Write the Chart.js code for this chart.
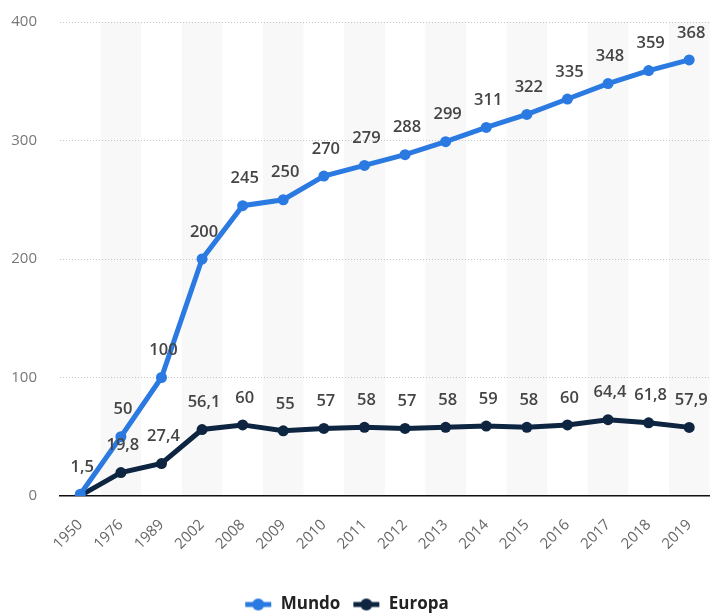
<!DOCTYPE html>
<html>
<head>
<meta charset="utf-8">
<script src="https://cdn.jsdelivr.net/npm/chart.js@4/dist/chart.umd.min.js"></script>
<style>
  html, body { margin: 0; padding: 0; background: #fff; }
  #wrap { width: 715px; height: 613px; }
</style>
</head>
<body>
<div id="wrap"><canvas id="chart" width="715" height="613"></canvas></div>
<script>
const years = ['1950', '1976', '1989', '2002', '2008', '2009', '2010', '2011', '2012',
  '2013', '2014', '2015', '2016', '2017', '2018', '2019'];
const mundo = [1.5, 50, 100, 200, 245, 250, 270, 279, 288, 299, 311, 322, 335, 348, 359, 368];
const europa = [0.35, 19.8, 27.4, 56.1, 60, 55, 57, 58, 57, 58, 59, 58, 60, 64.4, 61.8, 57.9];
// labels printed above the points ('' = not shown)
const mundoLabels = ['1,5', '50', '100', '200', '245', '250', '270', '279', '288', '299',
  '311', '322', '335', '348', '359', '368'];
const europaLabels = ['', '19,8', '27,4', '56,1', '60', '55', '57', '58', '57', '58',
  '59', '58', '60', '64,4', '61,8', '57,9'];
const yTicks = [0, 100, 200, 300, 400];

const BLUE = '#2a7ae2';
const NAVY = '#0d2540';
const FONT = "'Open Sans', 'DejaVu Sans', sans-serif";

function legendIcon(color) {
  const c = document.createElement('canvas');
  c.width = 28; c.height = 14;
  const g = c.getContext('2d');
  g.strokeStyle = color;
  g.lineWidth = 5;
  g.beginPath(); g.moveTo(1, 7); g.lineTo(27, 7); g.stroke();
  g.fillStyle = color;
  g.beginPath(); g.arc(14, 7, 6, 0, Math.PI * 2); g.fill();
  return c;
}

const bands = {
  id: 'bands',
  beforeDraw(chart) {
    const { ctx, chartArea: a, scales: { x } } = chart;
    const w = x.getPixelForValue(1) - x.getPixelForValue(0);
    ctx.save();
    ctx.fillStyle = '#f8f8f8';
    for (let i = 1; i < years.length; i += 2) {
      const cx = x.getPixelForValue(i);
      ctx.fillRect(cx - w / 2, a.top, w, a.bottom - a.top);
    }
    ctx.restore();
  }
};

const valueLabels = {
  id: 'valueLabels',
  afterDatasetsDraw(chart) {
    const { ctx } = chart;
    const texts = [mundoLabels, europaLabels];
    ctx.save();
    ctx.font = '600 16.5px ' + FONT;
    ctx.fillStyle = '#454545';
    ctx.textAlign = 'center';
    ctx.textBaseline = 'middle';
    chart.data.datasets.forEach((ds, di) => {
      chart.getDatasetMeta(di).data.forEach((pt, i) => {
        const t = texts[di][i];
        if (t) ctx.fillText(t, pt.x + 2, pt.y - 27);
      });
    });
    ctx.restore();
  }
};

// legend sits a bit left of the canvas centre in the original
const legendShift = {
  id: 'legendShift',
  afterLayout(chart) {
    chart.legend.left -= 11;
    chart.legend.right -= 11;
  }
};

new Chart(document.getElementById('chart'), {
  type: 'line',
  data: {
    labels: years,
    datasets: [
      {
        label: 'Mundo',
        data: mundo,
        borderColor: BLUE,
        backgroundColor: BLUE,
        borderWidth: 5,
        pointRadius: 5.5,
        pointBorderWidth: 0,
        tension: 0,
        fill: false
      },
      {
        label: 'Europa',
        data: europa,
        borderColor: NAVY,
        backgroundColor: NAVY,
        borderWidth: 5,
        pointRadius: 5.5,
        pointBorderWidth: 0,
        tension: 0,
        fill: false
      }
    ]
  },
  options: {
    responsive: false,
    animation: false,
    layout: { padding: { top: 22, right: 0, left: 0, bottom: -10 } },
    scales: {
      x: {
        offset: true,
        afterFit(axis) { axis.height = 88; axis.paddingLeft = 0; axis.paddingRight = 0; },
        grid: { display: false },
        border: { display: true, color: '#111', width: 1.5 },
        ticks: {
          color: '#666',
          font: { family: FONT, size: 15 },
          minRotation: 45,
          maxRotation: 45,
          padding: 12,
          autoSkip: false
        }
      },
      y: {
        min: 0,
        max: 400,
        afterFit(axis) { axis.width = 60; axis.paddingTop = 0; axis.paddingBottom = 0; },
        afterBuildTicks(axis) { axis.ticks = yTicks.map(v => ({ value: v })); },
        grid: {
          color: (c) => c.tick.value === 0 ? 'rgba(0,0,0,0)' : '#c4c4c4',
          drawTicks: false,
          lineWidth: 1
        },
        border: { display: false, dash: [1, 2] },
        ticks: {
          color: '#777',
          font: { family: FONT, size: 15 },
          padding: 23
        }
      }
    },
    plugins: {
      legend: {
        position: 'bottom',
        labels: {
          usePointStyle: true,
          pointStyleWidth: 28,
          padding: 12,
          color: '#222',
          font: { family: FONT, size: 17, weight: 'bold' },
          generateLabels(chart) {
            return chart.data.datasets.map((ds, i) => ({
              text: ds.label,
              pointStyle: legendIcon(ds.borderColor),
              fillStyle: ds.borderColor,
              strokeStyle: ds.borderColor,
              lineWidth: 0,
              fontColor: '#222',
              hidden: false,
              datasetIndex: i
            }));
          }
        }
      },
      tooltip: { enabled: false }
    }
  },
  plugins: [bands, valueLabels, legendShift]
});
</script>
</body>
</html>
